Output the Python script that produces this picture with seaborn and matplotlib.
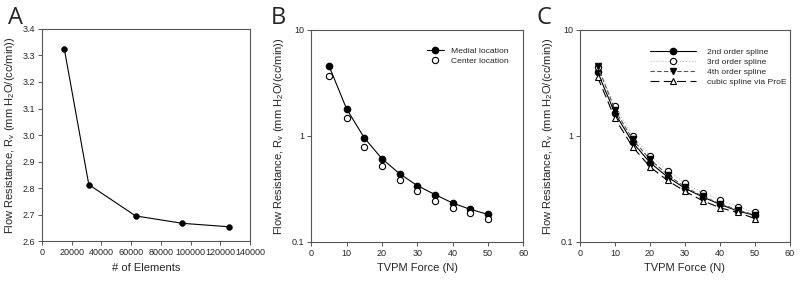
import numpy as np
import pandas as pd
import matplotlib
matplotlib.use("Agg")
import matplotlib.pyplot as plt
import seaborn as sns

# panel A - mesh convergence
elements = [15000, 31500, 63000, 94500, 126000]
resist_a = [3.325, 2.813, 2.695, 2.667, 2.654]

# panel B / C - TVPM force
force = [5, 10, 15, 20, 25, 30, 35, 40, 45, 50]
medial = [4.6, 1.8, 0.96, 0.61, 0.44, 0.34, 0.28, 0.233, 0.203, 0.182]
center = [3.68, 1.46, 0.79, 0.52, 0.38, 0.30, 0.245, 0.211, 0.186, 0.166]

spline2 = [4.0, 1.63, 0.87, 0.56, 0.41, 0.32, 0.266, 0.226, 0.196, 0.178]
spline3 = [4.5, 1.9, 1.0, 0.65, 0.47, 0.36, 0.29, 0.25, 0.215, 0.19]
spline4 = [4.6, 1.75, 0.93, 0.60, 0.43, 0.33, 0.27, 0.23, 0.20, 0.18]
proe = [3.6, 1.46, 0.79, 0.51, 0.38, 0.30, 0.245, 0.21, 0.19, 0.166]

sns.set_style("white")
plt.rcParams['font.family'] = ['Liberation Sans', 'DejaVu Sans']
plt.rcParams['mathtext.default'] = 'regular'

ylab = "Flow Resistance, R$_v$ (mm H$_2$O/(cc/min))"

fig = plt.figure(figsize=(8, 2.81), dpi=100)
axA = fig.add_axes([0.0525, 0.142, 0.26, 0.755])
axB = fig.add_axes([0.389, 0.139, 0.265, 0.755])
axC = fig.add_axes([0.725, 0.139, 0.2625, 0.755])

def style(ax):
    for s in ax.spines.values():
        s.set_color("#555555")
        s.set_linewidth(0.8)
    ax.tick_params(axis='both', which='major', direction='out', length=3,
                   width=0.7, color="#555555", labelsize=6.5, pad=2,
                   bottom=True, left=True, top=False, right=False)
    ax.tick_params(which='minor', bottom=False, left=False, top=False, right=False)

ms = 4.5

# A
dfA = pd.DataFrame({"n": elements, "r": resist_a})
sns.lineplot(data=dfA, x="n", y="r", ax=axA, color="black", lw=0.8)
sns.scatterplot(data=dfA, x="n", y="r", ax=axA, color="black", s=18, edgecolor="black", zorder=3)
axA.set_xlim(0, 140000)
axA.set_ylim(2.6, 3.4)
axA.set_xticks(np.arange(0, 140001, 20000))
axA.set_yticks(np.arange(2.6, 3.41, 0.1))
axA.set_yticklabels([f"{v:.1f}" for v in np.arange(2.6, 3.41, 0.1)])
axA.set_xlabel("# of Elements", fontsize=8)
axA.set_ylabel(ylab, fontsize=8)
style(axA)

# B
dfB = pd.DataFrame({"f": force, "medial": medial, "center": center})
axB.plot(dfB.f, dfB.medial, color="black", lw=0.8, marker="o", ms=ms,
         mfc="black", mec="black", label="Medial location")
axB.plot(dfB.f, dfB.center, ls="none", marker="o", ms=ms,
         mfc="white", mec="black", mew=0.8, label="Center location")
axB.set_yscale("log")
axB.set_xlim(0, 60)
axB.set_ylim(0.1, 10)
axB.set_yticks([0.1, 1, 10])
axB.set_yticklabels(["0.1", "1", "10"])
axB.set_xlabel("TVPM Force (N)", fontsize=8)
axB.set_ylabel(ylab, fontsize=8)
axB.legend(loc="upper right", bbox_to_anchor=(0.948, 0.934), frameon=False,
           fontsize=6.1, handlelength=2.1, handletextpad=0.8,
           borderaxespad=0, labelspacing=0.25)
style(axB)

# C
dfC = pd.DataFrame({"f": force, "s2": spline2, "s3": spline3, "s4": spline4, "pe": proe})
axC.plot(dfC.f, dfC.s2, color="black", lw=0.8, ls="-", marker="o", ms=ms,
         mfc="black", mec="black", label="2nd order spline")
axC.plot(dfC.f, dfC.s3, color="#bbbbbb", lw=0.8, ls=":", marker="o", ms=ms,
         mfc="white", mec="black", mew=0.8, label="3rd order spline")
axC.plot(dfC.f, dfC.s4, color="#555555", lw=0.8, ls=(0, (4, 2)), marker="v", ms=ms,
         mfc="black", mec="black", label="4th order spline")
axC.plot(dfC.f, dfC.pe, color="black", lw=0.8, ls=(0, (8, 4)), marker="^", ms=ms,
         mfc="white", mec="black", mew=0.8, label="cubic spline via ProE")
axC.set_yscale("log")
axC.set_xlim(0, 60)
axC.set_ylim(0.1, 10)
axC.set_yticks([0.1, 1, 10])
axC.set_yticklabels(["0.1", "1", "10"])
axC.set_xlabel("TVPM Force (N)", fontsize=8)
axC.set_ylabel(ylab, fontsize=8)
axC.legend(loc="upper right", bbox_to_anchor=(1.0, 0.93), frameon=False,
           fontsize=6.1, handlelength=5.4, handletextpad=1.3,
           borderaxespad=0, labelspacing=0.25)
style(axC)

# panel letters
fig.text(0.01, 0.98, "A", fontsize=17, va="top", family="Open Sans")
fig.text(0.338, 0.98, "B", fontsize=17, va="top", family="Open Sans")
fig.text(0.671, 0.98, "C", fontsize=17, va="top", family="Open Sans")

fig.savefig("out.png", dpi=100)
